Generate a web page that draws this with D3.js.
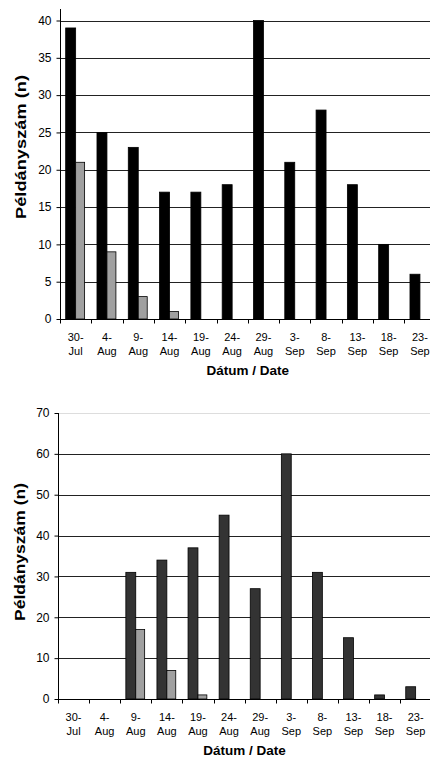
<!DOCTYPE html>
<html>
<head>
<meta charset="utf-8">
<script src="https://cdn.jsdelivr.net/npm/d3@7"></script>
<style>
body { margin: 0; background: #fff; }
text { font-family: "Liberation Sans", Arial, sans-serif; fill: #000; }
</style>
</head>
<body>
<script>
// dates shared by both panels (two-line labels)
var dates = ["30-|Jul", "4-|Aug", "9-|Aug", "14-|Aug", "19-|Aug", "24-|Aug", "29-|Aug", "3-|Sep", "8-|Sep", "13-|Sep", "18-|Sep", "23-|Sep"];

// top panel
var topMain = [39, 25, 23, 17, 17, 18, 40, 21, 28, 18, 10, 6];
var topSecond = [21, 9, 3, 1, 0, 0, 0, 0, 0, 0, 0, 0];
var topTicks = [0, 5, 10, 15, 20, 25, 30, 35, 40];

// bottom panel
var botMain = [0, 0, 31, 34, 37, 45, 27, 60, 31, 15, 1, 3];
var botSecond = [0, 0, 17, 7, 1, 0, 0, 0, 0, 0, 0, 0];
var botTicks = [0, 10, 20, 30, 40, 50, 60, 70];

var yTitle = "Példányszám (n)";
var xTitle = "Dátum / Date";

var W = 430, H = 758;
var svg = d3.select("body").append("svg")
  .attr("width", W)
  .attr("height", H);

function panel(opt) {
  var g = svg.append("g");
  var right = opt.left + 12 * opt.step;
  var x0 = d3.scaleBand()
    .domain(dates)
    .range([opt.left, right]);
  var x1 = d3.scaleBand()
    .domain(["a", "b"])
    .range([0, x0.bandwidth()])
    .paddingOuter(0.57);
  var y = d3.scaleLinear()
    .domain([0, opt.max])
    .range([opt.zero, opt.top]);

  // gridlines
  g.selectAll(".grid")
    .data(opt.ticks.filter(d => d > 0))
    .join("line")
    .attr("x1", opt.left)
    .attr("x2", W)
    .attr("y1", d => Math.round(y(d)) + 0.5)
    .attr("y2", d => Math.round(y(d)) + 0.5)
    .attr("stroke", d => (opt.lightTop && d == opt.max) ? "#ddd" : "#222")
    .attr("stroke-width", 1);

  // bars
  var rows = dates.map((d, i) => ({ date: d, a: opt.main[i], b: opt.second[i] }));
  g.selectAll(".ba")
    .data(rows.filter(r => r.a > 0))
    .join("rect")
    .attr("x", r => x0(r.date) + x1("a"))
    .attr("y", r => y(r.a))
    .attr("width", x1.bandwidth())
    .attr("height", r => opt.zero - y(r.a))
    .attr("fill", opt.mainColor)
    .attr("stroke", "#000")
    .attr("stroke-width", 0.8);
  g.selectAll(".bb")
    .data(rows.filter(r => r.b > 0))
    .join("rect")
    .attr("x", r => x0(r.date) + x1("b"))
    .attr("y", r => y(r.b))
    .attr("width", x1.bandwidth() - 1)
    .attr("height", r => opt.zero - y(r.b))
    .attr("fill", "#a0a0a0")
    .attr("stroke", "#000")
    .attr("stroke-width", 0.8);

  // y axis
  var ya = g.append("g")
    .attr("transform", "translate(" + (opt.left + 0.5) + ",0)")
    .call(d3.axisLeft(y).tickValues(opt.ticks).tickSize(4).tickPadding(5));
  ya.select(".domain").remove();
  ya.selectAll("line").attr("stroke", "#000");
  ya.selectAll("text").style("font-size", "12px").style("font-family", "Liberation Sans, Arial, sans-serif");
  g.append("line")
    .attr("x1", opt.left + 0.5).attr("x2", opt.left + 0.5)
    .attr("y1", opt.axisTop).attr("y2", opt.zero)
    .attr("stroke", "#000");

  // x axis
  var xa = g.append("g")
    .attr("transform", "translate(0," + (Math.round(opt.zero) + 0.5) + ")");
  xa.append("line")
    .attr("x1", opt.left).attr("x2", W)
    .attr("stroke", "#000");
  xa.selectAll(".tk")
    .data(dates)
    .join("line")
    .attr("x1", d => Math.round(x0(d)) + 0.5)
    .attr("x2", d => Math.round(x0(d)) + 0.5)
    .attr("y1", 0).attr("y2", 4)
    .attr("stroke", "#000");
  xa.append("line")
    .attr("x1", right).attr("x2", right)
    .attr("y1", 0).attr("y2", 4)
    .attr("stroke", "#000");
  var lab = xa.selectAll(".lb")
    .data(dates)
    .join("text")
    .attr("text-anchor", "middle")
    .style("font-size", "11px");
  lab.append("tspan")
    .attr("x", d => x0(d) + x0.bandwidth() / 2)
    .attr("y", 21)
    .text(d => d.split("|")[0]);
  lab.append("tspan")
    .attr("x", d => x0(d) + x0.bandwidth() / 2)
    .attr("y", 35)
    .text(d => d.split("|")[1]);

  // titles
  g.append("text")
    .attr("x", (opt.left + right) / 2)
    .attr("y", opt.zero + 56)
    .attr("text-anchor", "middle")
    .style("font-size", "13.5px")
    .style("font-weight", "bold")
    .text(xTitle);
  g.append("text")
    .attr("transform", "translate(" + opt.titleX + "," + opt.titleY + ") rotate(-90)")
    .attr("text-anchor", "middle")
    .attr("textLength", opt.titleLen)
    .attr("lengthAdjust", "spacingAndGlyphs")
    .style("font-size", "15px")
    .style("font-weight", "bold")
    .text(yTitle);
}

panel({
  left: 60, step: 31.3, zero: 319, top: 20.5, axisTop: 9, max: 40,
  ticks: topTicks, main: topMain, second: topSecond,
  mainColor: "#000", titleX: 26, titleY: 147, titleLen: 144, lightTop: false
});

panel({
  left: 58, step: 31.1, zero: 699, top: 413, axisTop: 413, max: 70,
  ticks: botTicks, main: botMain, second: botSecond,
  mainColor: "#333", titleX: 25, titleY: 552, titleLen: 138, lightTop: true
});
</script>
</body>
</html>
